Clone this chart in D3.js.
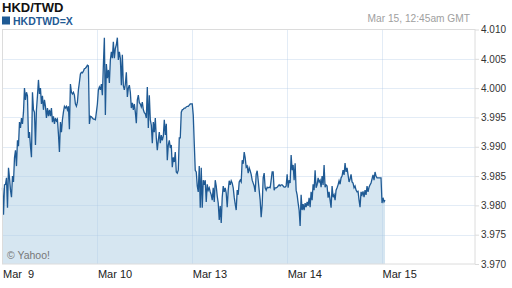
<!DOCTYPE html>
<html>
<head>
<meta charset="utf-8">
<script src="https://cdn.jsdelivr.net/npm/d3@7"></script>
<style>
  body { margin: 0; background: #fff; }
  svg { display: block; font-family: "Liberation Sans", Arial, sans-serif; }
</style>
</head>
<body>
<div id="container"></div>
<script>
/* CONSTANTS AND GLOBALS */
const width = 512,
      height = 288,
      plot = {left: 2.5, right: 475, top: 29.5, bottom: 264};

/* DATA (HKD/TWD, one quote per ~15 min) */
const mar9 = [
  3.9830,3.9784,3.9835,3.9836,3.9847,3.9796,3.9864,3.9847,3.9826,3.9814,
  3.9850,3.9840,3.9881,3.9894,3.9867,3.9911,3.9901,3.9942,3.9932,3.9949,
  3.9939,3.9959,4.0000,3.9980,3.9993,3.9987,3.9915,3.9925,3.9901,3.9882,
  3.9993,3.9963,3.9959,3.9903,3.9963,3.9987,4.0014,3.9990,4.0000,3.9973,
  3.9987,3.9963,3.9980,3.9969,3.9949,3.9966,3.9952,3.9963,3.9952,3.9966,
  3.9942,3.9952,3.9939,3.9949,3.9944,3.9947,3.9922,3.9891,3.9942,3.9925,
  3.9946,3.9959,3.9969,3.9966,3.9969,3.9963,3.9969,3.9930,4.0007,3.9993,
  3.9990,3.9993,3.9988,3.9973,3.9969,3.9976,3.9997,4.0010,4.0024,4.0027,
  4.0026,4.0029,4.0033,4.0034,4.0036,4.0039,4.0038,3.9939,3.9952,3.9951,
  3.9949,3.9947,3.9947,3.9946,3.9959
];
const mar10 = [
  3.9973,3.9997,4.0002,3.9997,4.0007,3.9988,4.0039,4.0086,3.9954,4.0041,
  4.0017,4.0031,4.0009,4.0048,4.0062,4.0051,4.0079,4.0051,4.0068,4.0074,
  4.0086,4.0048,4.0062,4.0051,4.0005,4.0057,4.0004,3.9997,4.0007,4.0027,
  3.9985,4.0000,4.0005,3.9993,3.9966,3.9975,3.9963,3.9973,3.9959,3.9940,
  3.9980,3.9988,3.9975,3.9973,3.9968,3.9976,3.9963,3.9958,3.9956,3.9949,
  4.0002,3.9932,3.9988,3.9946,3.9937,3.9906,3.9942,3.9925,3.9949,3.9915,
  3.9894,3.9911,3.9925,3.9906,3.9920,3.9911,3.9918,3.9946,3.9920,3.9939,
  3.9877,3.9903,3.9911,3.9898,3.9903,3.9865,3.9882,3.9874,3.9891,3.9857,
  3.9855,3.9860,3.9915,3.9915,3.9959,3.9963,3.9964,3.9966,3.9966,3.9968,
  3.9969,3.9969,3.9971,3.9973,3.9973
];
const mar13 = [
  3.9973,3.9954,3.9906,3.9860,3.9857,3.9833,3.9823,3.9867,3.9796,3.9864,
  3.9796,3.9843,3.9835,3.9843,3.9806,3.9836,3.9826,3.9830,3.9823,3.9818,
  3.9809,3.9830,3.9806,3.9843,3.9833,3.9816,3.9804,3.9775,3.9799,3.9770,
  3.9814,3.9833,3.9823,3.9830,3.9821,3.9797,3.9826,3.9842,3.9835,3.9842,
  3.9838,3.9830,3.9814,3.9802,3.9792,3.9826,3.9818,3.9840,3.9843,3.9840,
  3.9877,3.9871,3.9891,3.9881,3.9865,3.9867,3.9855,3.9864,3.9859,3.9853,
  3.9843,3.9838,3.9833,3.9823,3.9853,3.9859,3.9843,3.9826,3.9809,3.9780,
  3.9801,3.9847,3.9855,3.9830,3.9826,3.9831,3.9830,3.9831,3.9830,3.9843,
  3.9857,3.9857,3.9826,3.9830,3.9830,3.9831,3.9833,3.9835,3.9833,3.9835,
  3.9835,3.9833,3.9831,3.9831,3.9833
];
const mar14 = [
  3.9853,3.9830,3.9843,3.9838,3.9886,3.9860,3.9869,3.9843,3.9872,3.9826,
  3.9818,3.9804,3.9792,3.9765,3.9818,3.9792,3.9802,3.9792,3.9804,3.9797,
  3.9806,3.9799,3.9813,3.9797,3.9823,3.9809,3.9836,3.9826,3.9860,3.9830,
  3.9835,3.9847,3.9840,3.9843,3.9831,3.9850,3.9835,3.9869,3.9831,3.9835,
  3.9833,3.9813,3.9823,3.9809,3.9796,3.9833,3.9814,3.9818,3.9809,3.9826,
  3.9830,3.9835,3.9842,3.9836,3.9847,3.9850,3.9860,3.9852,3.9872,3.9857,
  3.9864,3.9852,3.9840,3.9845,3.9853,3.9840,3.9838,3.9830,3.9833,3.9826,
  3.9823,3.9824,3.9809,3.9797,3.9823,3.9818,3.9824,3.9814,3.9826,3.9818,
  3.9833,3.9823,3.9831,3.9835,3.9838,3.9845,3.9852,3.9843,3.9857,3.9850,
  3.9847,3.9847,3.9847,3.9847,3.9847
];
const mar15 = [3.9804,3.9813,3.9806,3.9809];

const days = [mar9, mar10, mar13, mar14, mar15];
const xTickLabels = ["Mar\u00a0\u00a09", "Mar 10", "Mar 13", "Mar 14", "Mar 15"];
const yTicks = [3.970, 3.975, 3.980, 3.985, 3.990, 3.995, 4.000, 4.005, 4.010];
const perDay = 95;

// flatten into {t, v}, t = trading day index + fraction of day
const data = days.flatMap((vals, d) => vals.map((v, i) => ({t: d + i / perDay, v: v})));

/* SCALES */
const xScale = d3.scaleLinear()
                 .domain([0, 4.98])
                 .range([plot.left, plot.right]);

const yScale = d3.scaleLinear()
                 .domain([3.970, 4.010])
                 .range([plot.bottom, plot.top]);

/* SVG */
const svg = d3.select("#container")
              .append("svg")
              .attr("width", width)
              .attr("height", height);

// header
svg.append("text")
   .attr("x", 2).attr("y", 11.5)
   .attr("font-size", 13).attr("font-weight", "bold").attr("fill", "#111")
   .text("HKD/TWD");

svg.append("rect")
   .attr("x", 2).attr("y", 16.5).attr("width", 8).attr("height", 8)
   .attr("fill", "#1f5a94");

svg.append("text")
   .attr("x", 13).attr("y", 24.5)
   .attr("font-size", 10.5).attr("font-weight", "bold").attr("fill", "#1f5a94")
   .text("HKDTWD=X");

svg.append("text")
   .attr("x", 470).attr("y", 22).attr("text-anchor", "end")
   .attr("font-size", 10.2).attr("fill", "#a0a0a0")
   .text("Mar 15, 12:45am GMT");

// AREA
const areaGen = d3.area()
                  .x(d => xScale(d.t))
                  .y0(plot.bottom)
                  .y1(d => yScale(d.v));

svg.append("path")
   .datum(data)
   .attr("fill", "#d6e6f1")
   .attr("d", areaGen);

// GRID
svg.selectAll("line.hgrid")
   .data(yTicks.slice(1, -1))
   .join("line")
   .attr("class", "hgrid")
   .attr("x1", plot.left).attr("x2", plot.right)
   .attr("y1", d => Math.round(yScale(d)) + 0.5)
   .attr("y2", d => Math.round(yScale(d)) + 0.5)
   .attr("stroke", "rgba(175,200,228,0.35)");

svg.selectAll("line.vgrid")
   .data([1, 2, 3, 4])
   .join("line")
   .attr("class", "vgrid")
   .attr("x1", d => Math.round(xScale(d)) + 0.5)
   .attr("x2", d => Math.round(xScale(d)) + 0.5)
   .attr("y1", plot.top).attr("y2", plot.bottom)
   .attr("stroke", "rgba(175,200,228,0.35)");

// LINE
const lineGen = d3.line()
                  .x(d => xScale(d.t))
                  .y(d => yScale(d.v));

svg.append("path")
   .datum(data)
   .attr("fill", "none")
   .attr("stroke", "#1f5a94")
   .attr("stroke-width", 1.3)
   .attr("stroke-linejoin", "miter")
   .attr("d", lineGen);

// BORDER
svg.append("rect")
   .attr("x", plot.left).attr("y", plot.top)
   .attr("width", plot.right - plot.left).attr("height", plot.bottom - plot.top)
   .attr("fill", "none").attr("stroke", "#dcdcdc");

// AXES
const yAxis = d3.axisRight(yScale)
                .tickValues(yTicks)
                .tickFormat(d3.format(".3f"))
                .tickSize(4)
                .tickPadding(2);

svg.append("g")
   .attr("transform", `translate(${plot.right},0)`)
   .call(yAxis)
   .call(g => g.select(".domain").remove())
   .call(g => g.selectAll("line").attr("stroke", "#dcdcdc"))
   .call(g => g.selectAll("text")
               .attr("font-family", "Liberation Sans, Arial, sans-serif")
               .attr("font-size", 10).attr("fill", "#333"));

const xAxis = d3.axisBottom(xScale)
                .tickValues([0, 1, 2, 3, 4])
                .tickFormat((d, i) => xTickLabels[i])
                .tickSize(0)
                .tickPadding(6);

svg.append("g")
   .attr("transform", `translate(0,${plot.bottom})`)
   .call(xAxis)
   .call(g => g.select(".domain").remove())
   .call(g => g.selectAll("text")
               .attr("text-anchor", "start")
               .attr("font-family", "Liberation Sans, Arial, sans-serif")
               .attr("font-size", 11).attr("fill", "#222"));

svg.append("text")
   .attr("x", 7).attr("y", 259)
   .attr("font-size", 10.5).attr("fill", "#777")
   .text("\u00a9 Yahoo!");
</script>
</body>
</html>
